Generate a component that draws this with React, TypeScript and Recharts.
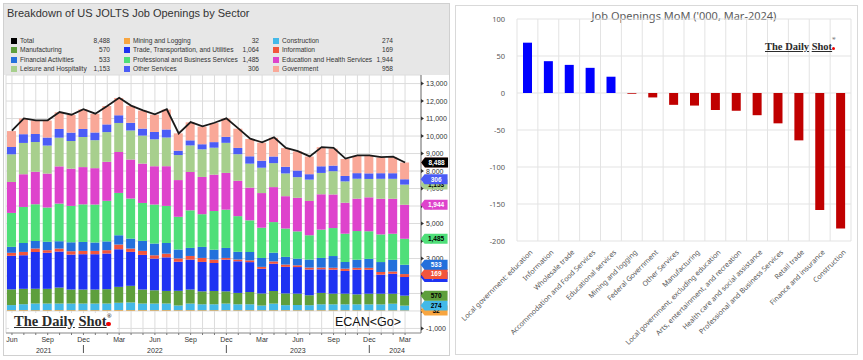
import { ComposedChart, BarChart, Bar, Line, XAxis, YAxis, CartesianGrid, Cell, LabelList } from 'recharts';

// ---- left chart: JOLTS openings by sector ('000), Jun 2021 - Mar 2024
const months = [
  'Jun 2021', 'Jul 2021', 'Aug 2021', 'Sep 2021', 'Oct 2021', 'Nov 2021', 'Dec 2021',
  'Jan 2022', 'Feb 2022', 'Mar 2022', 'Apr 2022', 'May 2022', 'Jun 2022', 'Jul 2022',
  'Aug 2022', 'Sep 2022', 'Oct 2022', 'Nov 2022', 'Dec 2022', 'Jan 2023', 'Feb 2023',
  'Mar 2023', 'Apr 2023', 'May 2023', 'Jun 2023', 'Jul 2023', 'Aug 2023', 'Sep 2023',
  'Oct 2023', 'Nov 2023', 'Dec 2023', 'Jan 2024', 'Feb 2024', 'Mar 2024',
];

const mining = [45, 46, 44, 45, 47, 46, 45, 44, 46, 48, 47, 45, 44, 46, 43, 44, 42, 43, 42, 41, 42, 40, 41, 42, 40, 39, 41, 40, 38, 39, 37, 36, 35, 32];
const construction = [290, 340, 380, 380, 380, 380, 380, 380, 380, 420, 440, 380, 380, 380, 270, 380, 340, 340, 380, 340, 340, 270, 380, 290, 300, 290, 340, 340, 340, 340, 340, 340, 380, 274];
const manufacturing = [900, 880, 840, 840, 910, 800, 800, 800, 820, 910, 950, 800, 760, 720, 840, 800, 740, 760, 700, 650, 700, 690, 720, 670, 650, 570, 650, 610, 610, 570, 610, 610, 570, 570];
const trade = [1920, 1920, 2110, 2060, 2060, 2000, 2020, 2020, 2040, 2150, 1940, 1980, 1810, 1920, 1660, 1710, 1680, 1600, 1810, 1810, 1710, 1410, 1560, 1520, 1520, 1470, 1350, 1370, 1300, 1410, 1370, 1090, 1140, 1064];
const information = [170, 190, 190, 150, 170, 190, 190, 190, 190, 270, 190, 230, 190, 210, 190, 210, 230, 190, 100, 100, 100, 110, 130, 130, 100, 110, 100, 110, 130, 110, 110, 150, 130, 169];
const financial = [340, 510, 440, 480, 420, 510, 510, 480, 500, 530, 570, 570, 670, 610, 510, 460, 630, 570, 570, 440, 480, 510, 500, 440, 380, 460, 550, 670, 380, 460, 510, 570, 670, 533];
const professional = [1940, 2060, 2100, 1960, 2150, 2080, 2150, 2170, 2320, 2420, 2290, 2170, 2230, 2120, 1870, 2150, 1870, 2210, 2190, 2040, 1810, 1730, 1750, 1620, 1560, 1390, 1620, 1600, 1620, 1640, 1580, 1580, 1490, 1485];
const education = [1770, 1870, 1850, 1940, 2130, 2130, 2130, 2080, 2230, 2340, 2230, 2250, 2190, 2270, 2100, 2190, 2130, 2080, 2100, 2020, 1870, 1980, 2000, 1850, 1920, 1960, 2020, 1920, 1770, 1850, 1940, 2040, 2000, 1944];
const leisure = [1580, 1790, 1700, 1600, 1640, 1580, 1720, 1600, 1700, 1660, 1660, 1600, 1540, 1640, 1430, 1520, 1580, 1540, 1720, 1520, 1370, 1450, 1370, 1300, 1180, 1220, 1220, 1330, 1220, 1140, 1050, 1140, 1140, 1153];
const otherServices = [420, 500, 460, 460, 500, 480, 460, 440, 440, 440, 440, 400, 420, 460, 250, 290, 290, 320, 340, 360, 420, 400, 380, 380, 380, 310, 380, 320, 310, 320, 320, 320, 320, 306];
const government = [910, 900, 780, 970, 950, 1010, 1120, 1070, 1050, 990, 970, 1030, 990, 1140, 990, 1030, 1010, 1090, 1050, 1100, 990, 1030, 1070, 1070, 1090, 1010, 1090, 970, 970, 990, 990, 900, 910, 958];
const total = [10310, 11010, 10900, 10900, 11370, 11220, 11540, 11280, 11720, 12190, 11740, 11470, 11240, 11530, 10150, 10800, 10550, 10760, 11010, 10440, 9850, 9640, 9930, 9320, 9140, 8840, 9370, 9320, 8710, 8900, 8900, 8800, 8820, 8488];

const leftTicks = [-1000, 0, 1000, 2000, 3000, 4000, 5000, 6000, 7000, 8000, 9000, 10000, 11000, 12000, 13000];

// ---- right chart: MoM change, Mar-2024 ('000)
const sectors = [
  'Local government: education', 'Information', 'Wholesale trade', 'Accommodation and Food Services',
  'Educational services', 'Mining and logging', 'Federal Government', 'Other Services', 'Manufacturing',
  'Local government, excluding education', 'Arts, entertainment, and recreation',
  'Health care and social assistance', 'Professional and Business Services', 'Retail trade',
  'Finance and insurance', 'Construction',
];
const momChange = [68, 43, 38, 34, 22, -1, -6, -16, -17, -23, -24, -30, -41, -64, -158, -183];
const rightTicks = [-200, -150, -100, -50, 0, 50, 100];

// stacking order, bottom to top
const stack = [
  { key: 'mining', values: mining, color: '#f7a540', text: '#000' },
  { key: 'construction', values: construction, color: '#44b9e8', text: '#000' },
  { key: 'manufacturing', values: manufacturing, color: '#5e9f3c', text: '#000' },
  { key: 'trade', values: trade, color: '#1e32f2', text: '#fff' },
  { key: 'information', values: information, color: '#f2553c', text: '#fff' },
  { key: 'financial', values: financial, color: '#2370dc', text: '#fff' },
  { key: 'professional', values: professional, color: '#4fdf79', text: '#000' },
  { key: 'education', values: education, color: '#de43cc', text: '#fff' },
  { key: 'leisure', values: leisure, color: '#a7cf8d', text: '#000' },
  { key: 'other', values: otherServices, color: '#4b5cf6', text: '#fff' },
  { key: 'government', values: government, color: '#f9a898', text: '#000' },
];

const colorOf = (k: string) => (k === 'total' ? '#000' : stack.find((s) => s.key === k)!.color);
const last = months.length - 1;

const legendCols = [
  [['total', 'Total', total], ['manufacturing', 'Manufacturing', manufacturing], ['financial', 'Financial Activities', financial], ['leisure', 'Leisure and Hospitality', leisure]],
  [['mining', 'Mining and Logging', mining], ['trade', 'Trade, Transportation, and Utilities', trade], ['professional', 'Professional and Business Services', professional], ['other', 'Other Services', otherServices]],
  [['construction', 'Construction', construction], ['information', 'Information', information], ['education', 'Education and Health Services', education], ['government', 'Government', government]],
] as [string, string, number[]][][];
const legendX = [[11, 110], [124, 259], [273, 393]];

const leftData = months.map((m, i) => {
  const row: Record<string, any> = { month: m, total: total[i] };
  stack.forEach((s) => (row[s.key] = s.values[i]));
  return row;
});
const rightData = sectors.map((s, i) => ({ sector: s, value: momChange[i] }));

const fmt = (v: number) => v.toLocaleString('en-US');

function tag(values: number[], fill: string, textFill: string, dx: number) {
  return (props: any) => {
    if (props.index !== last) return null;
    const x0 = Number(props.x) + Number(props.width || 0) + dx;
    const y = Number(props.y);
    return (
      <g>
        <path d={`M${x0},${y} L${x0 + 4},${y - 5} L${x0 + 27},${y - 5} L${x0 + 27},${y + 5} L${x0 + 4},${y + 5} Z`} fill={fill} />
        <text x={x0 + 15.5} y={y + 2.4} textAnchor="middle" fontSize={6.5} fontWeight="bold" fill={textFill}>
          {fmt(values[last])}
        </text>
      </g>
    );
  };
}

function LeftYTick({ x, y, payload }: any) {
  return (
    <g>
      <path d={`M${x},${y - 2} L${x + 3},${y} L${x},${y + 2} Z`} fill="#333" />
      <text x={x + 5} y={y + 2.5} fontSize={7} fill="#333">{fmt(payload.value)}</text>
    </g>
  );
}

const yearAt: Record<string, [string, number]> = {
  'Sep 2021': ['2021', -4], 'Jun 2022': ['2022', 0], 'Jun 2023': ['2023', 0], 'Feb 2024': ['2024', 4],
};

function LeftXTick({ x, y, payload }: any) {
  const [mon] = String(payload.value).split(' ');
  const showMon = ['Jun', 'Sep', 'Dec', 'Mar'].includes(mon);
  const yr = yearAt[payload.value];
  return (
    <g>
      <line x1={x} x2={x} y1={y} y2={y + 2} stroke="#777" />
      {showMon && <text x={x} y={y + 9} textAnchor="middle" fontSize={7} fill="#333">{mon}</text>}
      {mon === 'Dec' && <line x1={x} x2={x} y1={y + 12} y2={y + 20} stroke="#555" />}
      {yr && <text x={x + yr[1]} y={y + 20} textAnchor="middle" fontSize={7} fill="#333">{yr[0]}</text>}
    </g>
  );
}

function RightXTick({ x, y, payload }: any) {
  return (
    <text transform={`translate(${x + 4},${y + 10}) rotate(-45)`} textAnchor="end" dy="0.35em" fontSize={7.1} fill="#595959" fontFamily='"Noto Sans", sans-serif'>
      {payload.value}
    </text>
  );
}

function Logo({ size }: { size: number }) {
  return (
    <span style={{ fontFamily: '"Liberation Serif", serif', fontWeight: 'bold', fontSize: size, color: '#2b2b2b', whiteSpace: 'nowrap' }}>
      <span style={{ textDecoration: 'underline' }}>The Daily</span>{' '}
      <span style={{ textDecoration: 'underline' }}>Shot</span>
      <span style={{ fontSize: size * 0.45, verticalAlign: 'top' }}>®</span>
      <span style={{ display: 'inline-block', width: size * 0.3, height: size * 0.3, borderRadius: '50%', background: '#e00', marginLeft: -size * 0.35 }} />
    </span>
  );
}

export default function App() {
  return (
    <div style={{ position: 'absolute', left: 0, top: 0, width: 863, height: 360, background: '#fff', overflow: 'hidden', fontFamily: '"Liberation Sans", Arial, sans-serif' }}>
      {/* left panel */}
      <div style={{ position: 'absolute', left: 3, top: 3, width: 447, height: 353, border: '1px solid #d0d0d0', boxSizing: 'border-box', background: '#fff' }} />
      <div style={{ position: 'absolute', left: 4, top: 4, width: 445, height: 71, background: '#e7e7e7' }} />
      <div style={{ position: 'absolute', left: 7, top: 7, fontSize: 11, color: '#333' }}>Breakdown of US JOLTS Job Openings by Sector</div>
      {legendCols.map((col, ci) =>
        col.map(([key, name, vals], ri) => (
          <div key={key} style={{ position: 'absolute', left: legendX[ci][0], top: 37 + ri * 9.3, width: legendX[ci][1] - legendX[ci][0], fontSize: 6.6, color: '#333', lineHeight: '8px', display: 'flex' }}>
            <span style={{ width: 6, height: 6, background: colorOf(key), marginTop: 1, marginRight: 3, flex: 'none' }} />
            <span style={{ flex: 1, whiteSpace: 'nowrap' }}>{name}</span>
            <span>{fmt(vals[last])}</span>
          </div>
        ))
      )}
      <div style={{ position: 'absolute', left: 0, top: 0 }}>
        <ComposedChart width={452} height={360} data={leftData} margin={{ top: 75, right: 3, left: 6, bottom: 2 }} barSize={9}>
          <CartesianGrid stroke="#dcdcdc" fill="#fff" />
          <XAxis dataKey="month" interval={0} height={25} tickSize={0} tickMargin={0} padding={{ left: 0, right: 10 }} axisLine={{ stroke: '#999' }} tick={<LeftXTick />} />
          <YAxis orientation="right" width={28} domain={[-1260, 13490]} ticks={leftTicks} interval={0} tickSize={0} tickMargin={0} axisLine={{ stroke: '#777' }} tick={<LeftYTick />} />
          {stack.map((s) => (
            <Bar key={s.key} dataKey={s.key} stackId="a" fill={s.color} isAnimationActive={false}>
              <LabelList dataKey={s.key} content={tag(s.values, s.color, s.text, 11.5)} />
            </Bar>
          ))}
          <Line dataKey="total" stroke="#1a1a1a" strokeWidth={1.8} dot={false} type="linear" isAnimationActive={false}>
            <LabelList dataKey="total" content={tag(total, '#000', '#fff', 16)} />
          </Line>
        </ComposedChart>
      </div>
      <div style={{ position: 'absolute', left: 9, top: 313, width: 108, height: 19, background: '#fff' }} />
      <div style={{ position: 'absolute', left: 14, top: 312 }}><Logo size={14.5} /></div>
      <div style={{ position: 'absolute', left: 335, top: 315, fontSize: 12.5, color: '#111' }}>ECAN&lt;Go&gt;</div>

      {/* right panel */}
      <div style={{ position: 'absolute', left: 455, top: 5, width: 403, height: 350, border: '1px solid #d9d9d9', boxSizing: 'border-box' }} />
      <div style={{ position: 'absolute', left: 584, top: 8, width: 200, textAlign: 'center', fontFamily: '"Noto Sans", sans-serif', fontSize: 11, color: '#595959', whiteSpace: 'nowrap' }}>
        Job Openings MoM ('000, Mar-2024)
      </div>
      <div style={{ position: 'absolute', left: 456, top: 6 }}>
        <BarChart width={401} height={348} data={rightData} margin={{ top: 13, right: 6, left: 21, bottom: 0 }} barSize={9}>
          <CartesianGrid
            stroke="#e3e3e3"
            verticalCoordinatesGenerator={({ offset }: any) => sectors.map((_, i) => offset.left + (i * offset.width) / sectors.length).concat(offset.left + offset.width)}
          />
          <XAxis dataKey="sector" interval={0} height={113} tickSize={0} tickMargin={0} axisLine={false} tick={<RightXTick />} />
          <YAxis width={40} domain={[-200, 100]} ticks={rightTicks} interval={0} axisLine={false} tickLine={false} tickMargin={6} tick={{ fontSize: 7.5, fill: '#595959', fontFamily: '"Noto Sans", sans-serif' }} />
          <Bar dataKey="value" isAnimationActive={false}>
            {rightData.map((d) => (
              <Cell key={d.sector} fill={d.value >= 0 ? '#0000ff' : '#c00000'} />
            ))}
          </Bar>
        </BarChart>
      </div>
      <div style={{ position: 'absolute', left: 765, top: 36 }}><Logo size={10.5} /></div>
    </div>
  );
}
